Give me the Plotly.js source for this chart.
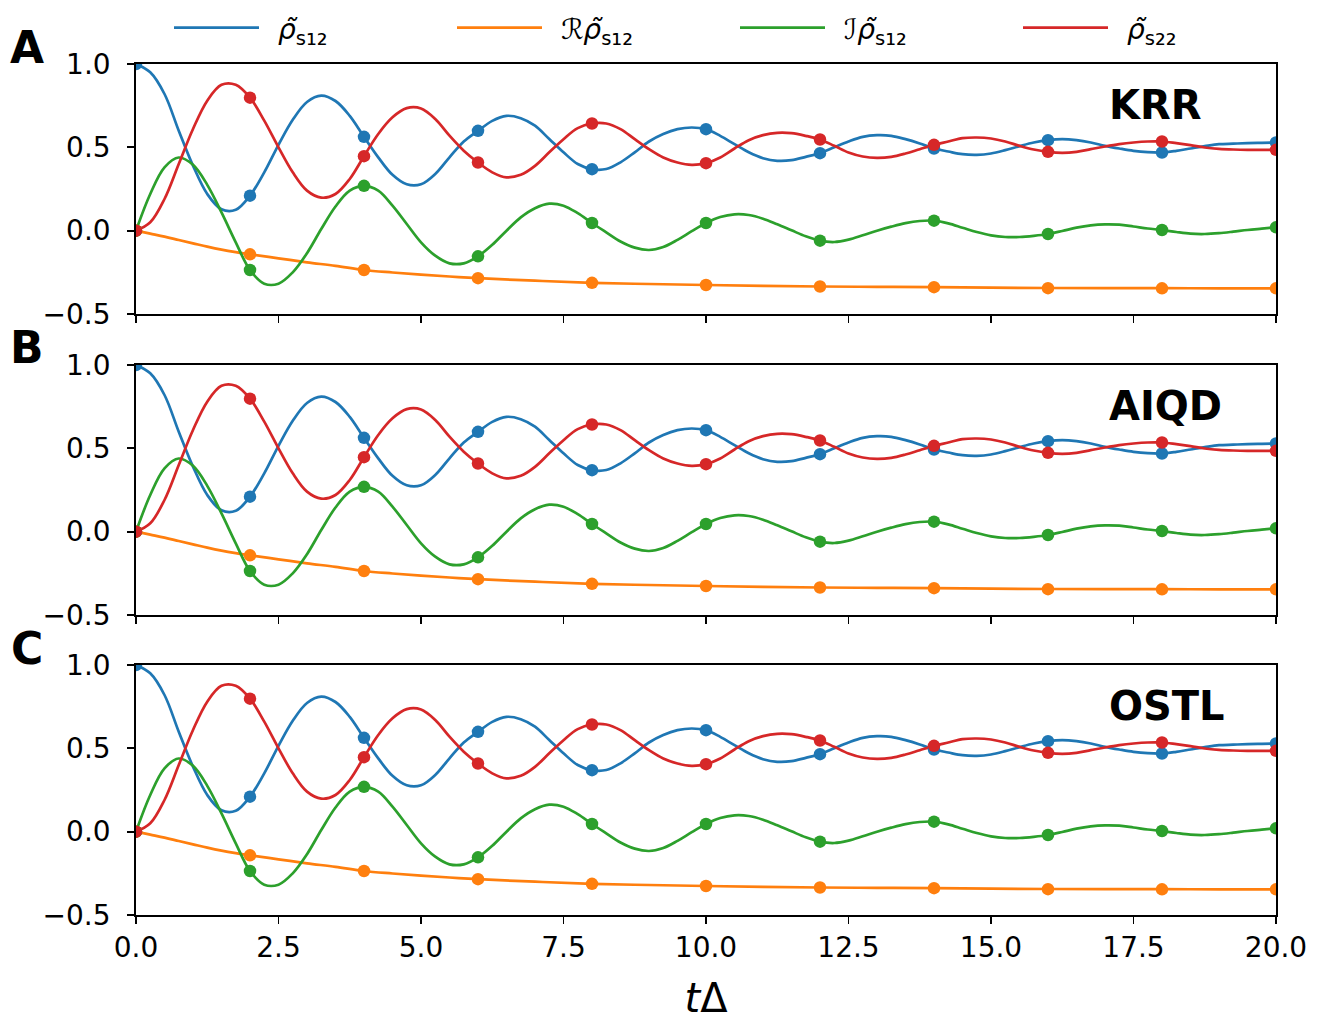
<!DOCTYPE html>
<html>
<head>
<meta charset="utf-8">
<script src="https://cdn.plot.ly/plotly-3.0.1.min.js"></script>
<style>html,body{margin:0;padding:0;background:#fff;}</style>
</head>
<body>
<div id="chart" style="width:1343px;height:1025px;"></div>
<script>
// ---- data ----
const tLine = [0,0.25,0.5,0.75,1,1.25,1.5,1.75,2,2.25,2.5,2.75,3,3.25,3.5,3.75,4,4.25,4.5,4.75,5,5.25,5.5,5.75,6,6.25,6.5,6.75,7,7.25,7.5,7.75,8,8.25,8.5,8.75,9,9.25,9.5,9.75,10,10.25,10.5,10.75,11,11.25,11.5,11.75,12,12.25,12.5,12.75,13,13.25,13.5,13.75,14,14.25,14.5,14.75,15,15.25,15.5,15.75,16,16.25,16.5,16.75,17,17.25,17.5,17.75,18,18.25,18.5,18.75,19,19.25,19.5,19.75,20];

const rhoS12Line = [1.000,0.950,0.820,0.600, 0.390,0.220,0.128,0.125, 0.210,0.350,0.515,0.665, 0.772,0.810,0.778,0.689, 0.563,0.440,0.335,0.278, 0.278,0.340,0.440,0.535, 0.599,0.659,0.689,0.675, 0.630,0.550,0.470,0.400, 0.369,0.370,0.410,0.470, 0.535,0.580,0.609,0.619, 0.609,0.569,0.519,0.470, 0.435,0.419,0.423,0.443, 0.465,0.500,0.535,0.563, 0.573,0.569,0.549,0.523, 0.493,0.475,0.459,0.455, 0.463,0.483,0.507,0.529, 0.543,0.549,0.543,0.529, 0.509,0.493,0.479,0.471, 0.469,0.479,0.493,0.507, 0.519,0.522,0.525,0.527, 0.529];

const imRhoS12Line = [0.000,0.220,0.380,0.439, 0.395,0.275,0.110,-0.070, -0.236,-0.318,-0.318,-0.250, -0.135,0.010,0.145,0.240, 0.269,0.240,0.150,0.040, -0.070,-0.150,-0.196,-0.196, -0.154,-0.085,0.000,0.080, 0.135,0.162,0.150,0.105, 0.046,-0.010,-0.065,-0.102, -0.116,-0.098,-0.055,-0.003, 0.046,0.082,0.098,0.094, 0.072,0.038,0.002,-0.034, -0.060,-0.068,-0.054,-0.028, 0.000,0.024,0.045,0.058, 0.060,0.044,0.018,-0.008, -0.028,-0.038,-0.038,-0.031, -0.020,-0.002,0.018,0.032, 0.038,0.036,0.025,0.013, 0.004,-0.008,-0.018,-0.020, -0.015,-0.006,0.004,0.012, 0.020];

const rhoS22Line = [0.000,0.050,0.190,0.400, 0.610,0.780,0.875,0.875, 0.798,0.660,0.500,0.350, 0.240,0.198,0.220,0.310, 0.447,0.580,0.680,0.735, 0.733,0.670,0.570,0.480, 0.409,0.350,0.320,0.335, 0.389,0.470,0.549,0.615, 0.643,0.643,0.609,0.549, 0.489,0.439,0.409,0.395, 0.405,0.439,0.493,0.543, 0.573,0.587,0.585,0.569, 0.547,0.509,0.469,0.445, 0.437,0.443,0.463,0.489, 0.515,0.535,0.555,0.559, 0.553,0.535,0.509,0.487, 0.473,0.467,0.473,0.489, 0.505,0.519,0.529,0.535, 0.535,0.525,0.513,0.499, 0.491,0.487,0.485,0.485, 0.485];

const tReLine = [0,0.25,0.5,0.75,1,1.25,1.5,1.75,2,2.5,3,3.5,4,4.5,5,5.5,6,7,8,9,10,11,12,13,14,15,16,17,18,19,20];
const reRhoS12Line = [0,-0.018,-0.036,-0.056,-0.076,-0.096,-0.114,-0.129,-0.142,-0.166,-0.190,-0.211,-0.236,-0.251,-0.264,-0.275,-0.285,-0.300,-0.313,-0.320,-0.326,-0.331,-0.335,-0.337,-0.339,-0.342,-0.344,-0.345,-0.345,-0.346,-0.346];

const tDots = [0,2,4,6,8,10,12,14,16,18,20];
const rhoS12Dots   = [1.000,0.210,0.563,0.599,0.369,0.609,0.465,0.493,0.543,0.469,0.529];
const reRhoS12Dots = [0.000,-0.142,-0.236,-0.285,-0.313,-0.326,-0.335,-0.339,-0.345,-0.346,-0.346];
const imRhoS12Dots = [0.000,-0.236,0.269,-0.154,0.046,0.046,-0.060,0.060,-0.020,0.004,0.020];
const rhoS22Dots   = [0.000,0.798,0.447,0.409,0.643,0.405,0.547,0.515,0.473,0.535,0.485];

const panelLetters = ['A','B','C'];
const methodNames = ['KRR','AIQD','OSTL'];
const seriesNames = [
  '\u2002<i>ρ̃</i><sub>s<span style="font-size:27px">₁₂</span></sub>',
  '\u2002ℛ<i>ρ̃</i><sub>s<span style="font-size:27px">₁₂</span></sub>',
  '\u2002ℐ<i>ρ̃</i><sub>s<span style="font-size:27px">₁₂</span></sub>',
  '\u2002<i>ρ̃</i><sub>s<span style="font-size:27px">₂₂</span></sub>'
];
const seriesColors = ['#1f77b4','#ff7f0e','#2ca02c','#d62728'];
const xTickVals = [0,2.5,5,7.5,10,12.5,15,17.5,20];
const yTickVals = [-0.5,0,0.5,1.0];

// ---- build figure ----
const lineSeries = [
  {x:tLine, y:rhoS12Line},
  {x:tReLine, y:reRhoS12Line},
  {x:tLine, y:imRhoS12Line},
  {x:tLine, y:rhoS22Line}
];
const dotSeries = [rhoS12Dots, reRhoS12Dots, imRhoS12Dots, rhoS22Dots];

const traces = [];
for (let p = 0; p < 3; p++) {
  const xa = p === 0 ? 'x' : 'x' + (p + 1);
  const ya = p === 0 ? 'y' : 'y' + (p + 1);
  for (let s = 0; s < 4; s++) {
    traces.push({
      type:'scatter', mode:'lines', x:lineSeries[s].x, y:lineSeries[s].y,
      xaxis:xa, yaxis:ya, name:seriesNames[s], legendgroup:'s'+s,
      showlegend: p === 0,
      line:{color:seriesColors[s], width:2.7, shape:'spline', smoothing:1},
      hoverinfo:'skip'
    });
  }
  for (let s = 0; s < 4; s++) {
    traces.push({
      type:'scatter', mode:'markers', x:tDots, y:dotSeries[s],
      xaxis:xa, yaxis:ya, name:seriesNames[s], legendgroup:'s'+s,
      showlegend:false,
      marker:{color:seriesColors[s], size:12.5},
      hoverinfo:'skip'
    });
  }
}

const W = 1343, H = 1025;
const mL = 136, mR = 67, mT = 64, mB = 110;
const plotH = H - mT - mB;
function dom(topPx, botPx) { return [(H - mB - botPx) / plotH, (H - mB - topPx) / plotH]; }
const domains = [dom(64, 314), dom(365, 615), dom(665, 915)];

const axisCommon = {
  showline:true, linecolor:'black', linewidth:1.8, mirror:true,
  ticks:'outside', ticklen:7, tickwidth:1.8, tickcolor:'black',
  showgrid:false, zeroline:false,
  tickfont:{family:'DejaVu Sans', size:28, color:'black'}
};

const layout = {
  width:W, height:H,
  margin:{l:mL, r:mR, t:mT, b:mB, autoexpand:false},
  paper_bgcolor:'white', plot_bgcolor:'white',
  font:{family:'DejaVu Sans', size:28, color:'black'},
  showlegend:true,
  legend:{
    orientation:'h', xref:'container', yref:'container',
    x:169/W, xanchor:'left', y:1 - 28/H, yanchor:'middle',
    font:{family:'DejaVu Sans', size:28, color:'black'},
    itemwidth:85, entrywidth:183, entrywidthmode:'pixels',
    bgcolor:'rgba(0,0,0,0)', borderwidth:0
  },
  annotations:[]
};

for (let p = 0; p < 3; p++) {
  const sfx = p === 0 ? '' : String(p + 1);
  const xa = Object.assign({}, axisCommon, {
    domain:[0,1], anchor:'y' + sfx, range:[0,20],
    tickvals:xTickVals, tickformat:'.1f', showticklabels: p === 2
  });
  if (p === 2) xa.title = {text:'<i>t</i>Δ', font:{family:'DejaVu Sans', size:40, color:'black'}, standoff:20};
  layout['xaxis' + sfx] = xa;
  layout['yaxis' + sfx] = Object.assign({}, axisCommon, {
    domain:domains[p], anchor:'x' + sfx, range:[-0.5,1.0],
    tickvals:yTickVals, tickformat:'.1f', ticklabelstandoff:11
  });
  layout.annotations.push({
    xref:'paper', yref:'paper', x:(27 - mL) / (W - mL - mR),
    y:(H - mB - [47,347,648][p]) / plotH,
    xanchor:'center', yanchor:'middle', showarrow:false,
    text:'<b>' + panelLetters[p] + '</b>',
    font:{family:'DejaVu Sans', size:44, color:'black'}
  });
  layout.annotations.push({
    xref:'x' + sfx, yref:'y' + sfx, x:17.04, y:0.755,
    xanchor:'left', yanchor:'middle', showarrow:false,
    text:'<b>' + methodNames[p] + '</b>',
    font:{family:'DejaVu Sans', size:40, color:'black'}
  });
}

Plotly.newPlot('chart', traces, layout, {displayModeBar:false, staticPlot:true});
</script>
</body>
</html>
